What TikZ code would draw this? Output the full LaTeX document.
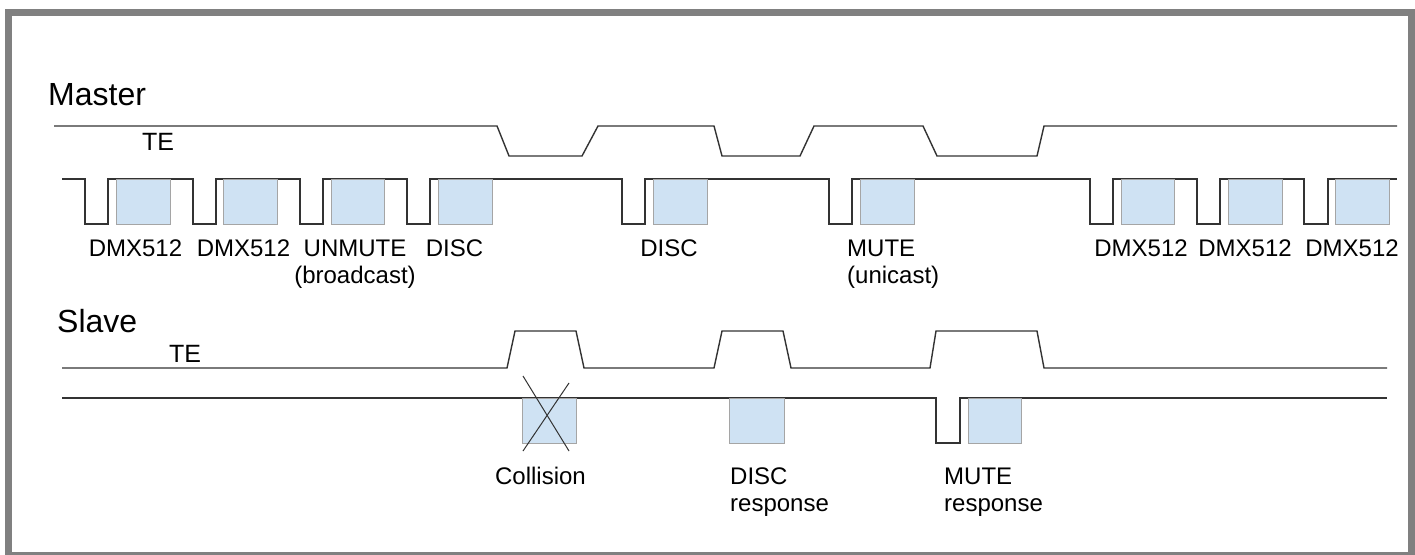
\documentclass[tikz,border=0pt]{standalone}
\usepackage{fontspec}
\setmainfont{Liberation Sans}
\definecolor{pktblue}{HTML}{CFE2F3}
\definecolor{pktgray}{HTML}{A5A5A5}
\definecolor{framegray}{HTML}{808080}
\definecolor{wavecol}{HTML}{333333}
\begin{document}
\begin{tikzpicture}[x=1pt,y=-1pt]
\tikzset{
  wave/.style={draw=wavecol,line width=1.4pt,line join=miter},
  pkt/.style={fill=pktblue,draw=pktgray,line width=1pt},
  frameline/.style={draw=framegray,line width=7pt},
  big/.style={font=\fontsize{32}{36}\selectfont,inner sep=0pt,anchor=base west},
  telbl/.style={font=\fontsize{25}{29}\selectfont,inner sep=0pt,anchor=base west},
  lbl/.style={font=\fontsize{24}{28}\selectfont,inner sep=0pt,anchor=base},
  lbll/.style={font=\fontsize{24}{28}\selectfont,inner sep=0pt,anchor=base west},
  cross/.style={draw=wavecol,line width=1pt}
}
\useasboundingbox (0,0) rectangle (1415,554);
\fill[white] (0,0) rectangle (1415,554);
\draw[frameline] (8.5,12.5) rectangle (1411.5,555.5);

% ---------- Master ----------
\node[big] (master) at (48,105) {Master};
\node[telbl] (mte) at (142,150) {TE};

% master TE waveform
\draw[wave] (54,126) -- (497,126) -- (509,156) -- (582,156) -- (598,126)
  -- (714,126) -- (722,156) -- (800,156) -- (814,126)
  -- (923,126) -- (937,156) -- (1037,156) -- (1044,126) -- (1397,126);

% master data line
\draw[wave] (62,179)
  -- (85,179) -- (85,224) -- (108,224) -- (108,179)
  -- (193,179) -- (193,224) -- (216,224) -- (216,179)
  -- (300,179) -- (300,224) -- (323,224) -- (323,179)
  -- (407,179) -- (407,224) -- (430,224) -- (430,179)
  -- (622,179) -- (622,224) -- (645,224) -- (645,179)
  -- (829,179) -- (829,224) -- (852,224) -- (852,179)
  -- (1090,179) -- (1090,224) -- (1113,224) -- (1113,179)
  -- (1197,179) -- (1197,224) -- (1220,224) -- (1220,179)
  -- (1304,179) -- (1304,224) -- (1328,224) -- (1328,179)
  -- (1397,179);

\foreach \a/\b in {116/170,223/277,331/384,438/492,653/707,860/914,1121/1174,1228/1282,1335/1389}
  \draw[pkt] (\a,179) rectangle (\b,224);

\node[lbl] (m1) at (135.5,256) {DMX512};
\node[lbl] (m2) at (243.5,256) {DMX512};
\node[lbl] (m3) at (355,256) {UNMUTE};
\node[lbl] (m3b) at (355,283) {(broadcast)};
\node[lbl] (m4) at (454.5,256) {DISC};
\node[lbl] (m5) at (669,256) {DISC};
\node[lbll] (m6) at (847,256) {MUTE};
\node[lbll] (m6b) at (847,283) {(unicast)};
\node[lbl] (m7) at (1141,256) {DMX512};
\node[lbl] (m8) at (1245,256) {DMX512};
\node[lbl] (m9) at (1352,256) {DMX512};

% ---------- Slave ----------
\node[big] (slave) at (57,332) {Slave};
\node[telbl] (ste) at (169,362) {TE};

\draw[wave] (62,368) -- (507,368) -- (515,331) -- (576,331) -- (584,368)
  -- (714,368) -- (722,331) -- (783,331) -- (791,368)
  -- (930,368) -- (936,331) -- (1037,331) -- (1044,368) -- (1387,368);

\draw[wave] (62,398) -- (936,398) -- (936,443) -- (960,443) -- (960,398) -- (1387,398);

\foreach \a/\b in {522/576,729/784,968/1021}
  \draw[pkt] (\a,398) rectangle (\b,443);

\draw[cross] (523,376) -- (569,451);
\draw[cross] (569,383) -- (523,451);

\node[lbl] (s1) at (540.5,484) {Collision};
\node[lbll] (s2) at (730,484) {DISC};
\node[lbll] (s2b) at (730,511) {response};
\node[lbll] (s3) at (944,484) {MUTE};
\node[lbll] (s3b) at (944,511) {response};
\end{tikzpicture}
\end{document}
